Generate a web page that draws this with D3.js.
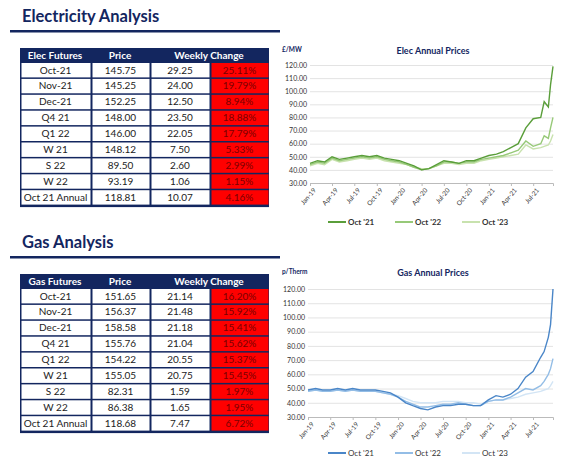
<!DOCTYPE html>
<html><head><meta charset="utf-8">
<script src="https://cdn.jsdelivr.net/npm/d3@7"></script>
<style>body{margin:0;background:#fff;font-family:Lato,"Open Sans",sans-serif}</style>
</head><body><svg id="c" width="577" height="468"></svg>
<script>
const elecRows = ["Oct-21","Nov-21","Dec-21","Q4 21","Q1 22","W 21","S 22","W 22","Oct 21 Annual"]
const elecPrice = ["145.75","145.25","152.25","148.00","146.00","148.12","89.50","93.19","118.81"]
const elecChange = ["29.25","24.00","12.50","23.50","22.05","7.50","2.60","1.06","10.07"]
const elecPct = ["25.11%","19.79%","8.94%","18.88%","17.79%","5.33%","2.99%","1.15%","4.16%"]
const gasRows = ["Oct-21","Nov-21","Dec-21","Q4 21","Q1 22","W 21","S 22","W 22","Oct 21 Annual"]
const gasPrice = ["151.65","156.37","158.58","155.76","154.22","155.05","82.31","86.38","118.68"]
const gasChange = ["21.14","21.48","21.18","21.04","20.55","20.75","1.59","1.65","7.47"]
const gasPct = ["16.20%","15.92%","15.41%","15.62%","15.37%","15.45%","1.97%","1.95%","6.72%"]

const dates = [
  "2019-01-01","2019-02-01","2019-03-01","2019-04-01","2019-05-01","2019-06-01","2019-07-01","2019-08-01","2019-09-01","2019-10-01","2019-11-01","2019-12-01",
  "2020-01-01","2020-02-01","2020-03-01","2020-04-01","2020-05-01","2020-06-01","2020-07-01","2020-08-01","2020-09-01","2020-10-01","2020-11-01","2020-12-01",
  "2021-01-01","2021-02-01","2021-03-01","2021-04-01","2021-05-01","2021-06-01","2021-07-01",
  "2021-08-01","2021-08-15","2021-09-01","2021-09-10","2021-09-20"]
const elecOct21 = [45,47,46,50,48,49,50,51,50,51,49,48, 47,45,43,40,41,44,47,46,45,47,47,49, 51,52,54,57,60,72,79, 80,92,88,105,119]
const elecOct22 = [44,46,45,49,47,48,49,50,49,50,48,47, 46,44,42,40,41,43,46,46,45,46,46,48, 49,50,51,53,55,62,58, 60,66,64,72,80]
const elecOct23 = [43,45,44,48,46,47,48,49,48,49,47,46, 45,44,42,41,41,43,45,45,44,45,45,47, 48,49,50,51,52,59,56, 57,58,59,62,67]
const gasOct21 = [49,50,49,49,50,49,50,49,49,49,48,47, 44,40,38,36,35,37,38,38,39,39,38,38, 42,45,44,46,50,58,62, 72,76,86,95,120]
const gasOct22 = [48,49,48,48,49,48,49,48,48,48,47,46, 44,41,39,37,37,38,39,39,40,39,38,38, 41,42,42,44,47,50,49, 52,55,60,64,71]
const gasOct23 = [48,49,48,48,49,48,49,48,48,48,47,46, 45,43,41,40,40,40,41,41,41,40,40,39, 41,42,42,43,44,46,47, 48,49,50,52,55]
const yTicks = [30,40,50,60,70,80,90,100,110,120]
const xTicks = ["2019-01-01","2019-04-01","2019-07-01","2019-10-01","2020-01-01","2020-04-01","2020-07-01","2020-10-01","2021-01-01","2021-04-01","2021-07-01"]
const seriesNames = ["Oct '21","Oct '22","Oct '23"]

const svg = d3.select("#c")
const navy = "#13265f"
const fmtX = d3.timeFormat("%b-%y")

function section(top, title, head, rows, price, change, pct) {
  svg.append("text").attr("x", 22).attr("y", top + 22).attr("font-size", 16.5).attr("font-weight", 700)
    .attr("fill", navy).text(title)
  svg.append("rect").attr("x", 10).attr("y", top + 30).attr("width", 270).attr("height", 2.5).attr("fill", navy)
  const tx = 20, ty = top + 48, rh = 15.9, cols = [0, 71, 130, 190, 249]
  svg.append("rect").attr("x", tx).attr("y", ty).attr("width", 249).attr("height", 14 + rows.length * rh + 2).attr("fill", navy)
  const hd = [[head, 35], ["Price", 100], ["Weekly Change", 189]]
  hd.forEach(h => svg.append("text").attr("x", tx + h[1]).attr("y", ty + 11).attr("text-anchor", "middle")
    .attr("font-size", 10).attr("font-weight", 700).attr("fill", "#fff").text(h[0]))
  rows.forEach((r, i) => {
    const y = ty + 14 + i * rh
    const vals = [r, price[i], change[i], pct[i]]
    vals.forEach((v, j) => {
      svg.append("rect").attr("x", tx + cols[j] + 1.5).attr("y", y + 1).attr("width", cols[j + 1] - cols[j] - 2)
        .attr("height", rh - 1.5).attr("fill", j == 3 ? "#ff0000" : "#fff")
      svg.append("text").attr("x", tx + (cols[j] + cols[j + 1]) / 2).attr("y", y + 11.5).attr("text-anchor", "middle")
        .attr("font-size", 10).attr("fill", j == 3 ? "#7a0000" : "#222").text(v)
    })
  })
}

function chart(opt) {
  const x = d3.scaleTime().domain([new Date("2019-01-01"), new Date("2021-09-20")]).range([opt.left, 553])
  const y = d3.scaleLinear().domain([30, 120]).range([opt.bottom, opt.top])
  svg.append("text").attr("x", 433).attr("y", opt.titleY).attr("text-anchor", "middle").attr("font-size", 9)
    .attr("font-weight", 700).attr("fill", navy).text(opt.title)
  svg.append("text").attr("x", opt.unitX).attr("y", opt.titleY - 2).attr("font-size", 6.5).attr("font-weight", 700)
    .attr("fill", navy).text(opt.unit)
  const gy = svg.append("g").attr("transform", `translate(${opt.left},0)`)
    .call(d3.axisLeft(y).tickValues(yTicks).tickSize(-(553 - opt.left)).tickFormat(d3.format(".2f")))
  gy.select(".domain").remove()
  gy.selectAll("line").attr("stroke", "#e3e3e3")
  gy.selectAll("text").attr("font-size", 7).attr("fill", "#333").attr("font-family", "Lato")
  const gx = svg.append("g").attr("transform", `translate(0,${opt.bottom})`)
    .call(d3.axisBottom(x).tickValues(xTicks.map(d => new Date(d))).tickFormat(fmtX).tickSize(3))
  gx.select(".domain").attr("stroke", "#bbb")
  gx.selectAll("line").attr("stroke", "#bbb")
  gx.selectAll("text").attr("font-size", 6.5).attr("fill", "#333").attr("font-family", "Lato")
    .attr("text-anchor", "end").attr("transform", "rotate(-50)").attr("dx", "-0.3em").attr("dy", "0.5em")
  const line = d3.line().x((d, i) => x(new Date(dates[i]))).y(d => y(d))
  for (let k = 2; k >= 0; k--) {
    svg.append("path").attr("d", line(opt.series[k])).attr("fill", "none").attr("stroke", opt.colors[k]).attr("stroke-width", 1.4)
  }
  seriesNames.forEach((n, k) => {
    const lx = 328 + k * 67
    svg.append("line").attr("x1", lx).attr("x2", lx + 18).attr("y1", opt.legendY).attr("y2", opt.legendY)
      .attr("stroke", opt.colors[k]).attr("stroke-width", 2)
    svg.append("text").attr("x", lx + 20).attr("y", opt.legendY + 3).attr("font-size", 8).attr("font-weight", opt.bold ? 700 : 400)
      .attr("fill", "#333").text(n)
  })
}

section(0, "Electricity Analysis", "Elec Futures", elecRows, elecPrice, elecChange, elecPct)
section(226, "Gas Analysis", "Gas Futures", gasRows, gasPrice, gasChange, gasPct)

chart({title: "Elec Annual Prices", unit: "£/MW", unitX: 282, titleY: 54, left: 310, top: 65, bottom: 183,
  legendY: 222, bold: true, colors: ["#5a9e3a", "#97c978", "#c8e2ae"], series: [elecOct21, elecOct22, elecOct23]})
chart({title: "Gas Annual Prices", unit: "p/Therm", unitX: 282, titleY: 276, left: 308, top: 289, bottom: 417,
  legendY: 453, bold: false, colors: ["#4a86c8", "#93bde6", "#d3e5f5"], series: [gasOct21, gasOct22, gasOct23]})
</script></body></html>
